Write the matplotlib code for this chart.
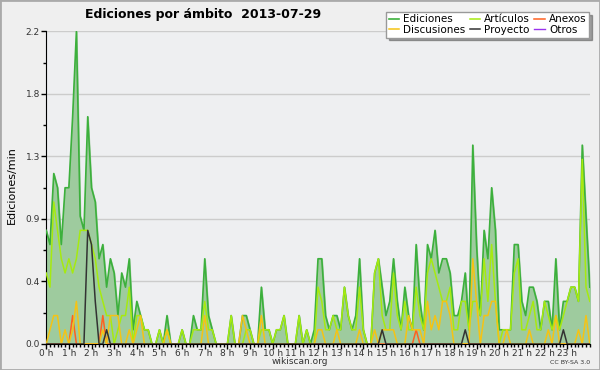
import numpy as np
import matplotlib
matplotlib.use("Agg")
import matplotlib.pyplot as plt
from matplotlib.patches import Rectangle

# Edits per minute, one value every 10 minutes (00:00 .. 24:00)
ediciones = [0.8, 0.7, 1.2, 1.1, 0.7, 1.1, 1.1, 1.6, 2.2, 0.9, 0.8, 1.6, 1.1, 1.0, 0.6, 0.7, 0.4, 0.6,
             0.5, 0.2, 0.5, 0.4, 0.6, 0.1, 0.3, 0.2, 0.1, 0.1, 0.0, 0.0, 0.1, 0.0, 0.2, 0.0, 0.0, 0.0,
             0.1, 0.0, 0.0, 0.2, 0.1, 0.1, 0.6, 0.2, 0.1, 0.0, 0.0, 0.0, 0.0, 0.2, 0.0, 0.0, 0.2, 0.2,
             0.1, 0.0, 0.0, 0.4, 0.1, 0.1, 0.0, 0.1, 0.1, 0.2, 0.0, 0.0, 0.0, 0.2, 0.0, 0.1, 0.0, 0.1,
             0.6, 0.6, 0.2, 0.1, 0.2, 0.2, 0.1, 0.4, 0.2, 0.1, 0.2, 0.6, 0.1, 0.0, 0.0, 0.5, 0.6, 0.4,
             0.2, 0.3, 0.6, 0.3, 0.1, 0.4, 0.2, 0.1, 0.7, 0.3, 0.1, 0.7, 0.6, 0.8, 0.5, 0.6, 0.6, 0.5,
             0.2, 0.2, 0.3, 0.5, 0.1, 1.4, 0.7, 0.2, 0.8, 0.6, 1.1, 0.8, 0.1, 0.1, 0.1, 0.1, 0.7, 0.7,
             0.3, 0.2, 0.4, 0.4, 0.3, 0.1, 0.3, 0.3, 0.1, 0.6, 0.1, 0.3, 0.3, 0.4, 0.4, 0.3, 1.4, 0.9,
             0.4]
articulos = [0.5, 0.4, 1.0, 0.8, 0.6, 0.5, 0.6, 0.5, 0.6, 0.8, 0.8, 0.8, 0.7, 0.6, 0.4, 0.3, 0.2, 0.2,
             0.0, 0.1, 0.2, 0.2, 0.4, 0.0, 0.2, 0.2, 0.1, 0.1, 0.0, 0.0, 0.1, 0.0, 0.1, 0.0, 0.0, 0.0,
             0.1, 0.0, 0.0, 0.1, 0.1, 0.1, 0.3, 0.1, 0.1, 0.0, 0.0, 0.0, 0.0, 0.2, 0.0, 0.0, 0.0, 0.1,
             0.1, 0.0, 0.0, 0.1, 0.1, 0.1, 0.0, 0.1, 0.1, 0.2, 0.0, 0.0, 0.0, 0.2, 0.0, 0.1, 0.0, 0.0,
             0.4, 0.3, 0.1, 0.1, 0.2, 0.1, 0.1, 0.4, 0.2, 0.1, 0.1, 0.4, 0.1, 0.0, 0.0, 0.5, 0.6, 0.2,
             0.1, 0.1, 0.5, 0.2, 0.1, 0.3, 0.1, 0.1, 0.4, 0.2, 0.1, 0.5, 0.6, 0.5, 0.4, 0.3, 0.3, 0.4,
             0.1, 0.1, 0.3, 0.3, 0.1, 0.3, 0.3, 0.2, 0.6, 0.3, 0.7, 0.3, 0.0, 0.1, 0.1, 0.1, 0.5, 0.6,
             0.1, 0.1, 0.2, 0.3, 0.1, 0.1, 0.3, 0.2, 0.1, 0.2, 0.1, 0.2, 0.3, 0.4, 0.4, 0.3, 1.3, 0.4,
             0.3]
discusiones = [0.0, 0.1, 0.2, 0.2, 0.0, 0.1, 0.0, 0.1, 0.3, 0.0, 0.0, 0.0, 0.0, 0.0, 0.0, 0.1, 0.0, 0.2,
               0.2, 0.2, 0.0, 0.0, 0.1, 0.0, 0.1, 0.2, 0.0, 0.0, 0.0, 0.0, 0.0, 0.0, 0.1, 0.0, 0.0, 0.0,
               0.0, 0.0, 0.0, 0.0, 0.0, 0.0, 0.2, 0.0, 0.0, 0.0, 0.0, 0.0, 0.0, 0.0, 0.0, 0.0, 0.2, 0.1,
               0.0, 0.0, 0.0, 0.2, 0.0, 0.0, 0.0, 0.0, 0.0, 0.0, 0.0, 0.0, 0.0, 0.0, 0.0, 0.0, 0.0, 0.0,
               0.1, 0.1, 0.0, 0.0, 0.0, 0.1, 0.0, 0.0, 0.0, 0.0, 0.0, 0.1, 0.0, 0.0, 0.0, 0.1, 0.0, 0.1,
               0.1, 0.1, 0.1, 0.0, 0.0, 0.0, 0.2, 0.1, 0.1, 0.1, 0.0, 0.3, 0.1, 0.2, 0.1, 0.3, 0.3, 0.2,
               0.0, 0.0, 0.0, 0.0, 0.0, 0.6, 0.3, 0.0, 0.2, 0.2, 0.3, 0.3, 0.0, 0.0, 0.1, 0.0, 0.0, 0.0,
               0.0, 0.0, 0.1, 0.0, 0.0, 0.0, 0.0, 0.1, 0.0, 0.2, 0.0, 0.0, 0.0, 0.0, 0.0, 0.1, 0.0, 0.2,
               0.0]
anexos = [0.0] * 145
anexos[7] = 0.2
anexos[15] = 0.2
anexos[98] = 0.1
proyecto = [0.0] * 145
proyecto[11] = 0.8
proyecto[12] = 0.7
proyecto[13] = 0.3
proyecto[16] = 0.1
proyecto[89] = 0.1
proyecto[111] = 0.1
proyecto[137] = 0.1
otros = [0.0] * 145

hours = np.arange(len(ediciones)) / 6.0
hour_labels = [f"{h} h" for h in range(24)]

fig = plt.figure(figsize=(6, 3.7), dpi=100, facecolor="#efefef")
ax = fig.add_axes([0.077, 0.0703, 0.906, 0.8446])
ax.set_facecolor("#eeeff1")

ax.plot(hours, otros, color="#9933ee", lw=1, zorder=1, label="Otros")
ax.fill_between(hours, ediciones, 0, color="#9ecb9e", zorder=2)
ax.plot(hours, ediciones, color="#3cb03c", lw=1.2, zorder=3, label="Ediciones")
ax.plot(hours, articulos, color="#a6ea10", lw=1.1, zorder=4, label="Artículos")
ax.plot(hours, anexos, color="#ff6020", lw=1.1, zorder=5, label="Anexos")
ax.plot(hours, discusiones, color="#f5c314", lw=1.1, zorder=6, label="Discusiones")
ax.plot(hours, proyecto, color="#333333", lw=1.1, zorder=7, label="Proyecto")

ax.set_xlim(0, 24)
ax.set_ylim(0, 2.2)
ax.set_xticks(np.arange(24))
ax.set_xticklabels(hour_labels)
ax.set_xticks(np.arange(0, 24.01, 1 / 6), minor=True)
yt = np.linspace(0, 2.2, 6)
ax.set_yticks(yt)
ax.set_yticklabels([f"{v:.1f}" for v in yt])
ax.set_yticks(yt[:-1] + 0.22, minor=True)
ax.grid(axis="y", color="#cccccc", lw=1)
ax.set_axisbelow(True)
for s in ["top", "right"]:
    ax.spines[s].set_visible(False)
ax.tick_params(axis="both", which="major", labelsize=6.5, colors="black", labelcolor="#333333",
               length=3.5, width=1)
ax.tick_params(axis="x", which="major", pad=0)
ax.tick_params(axis="y", which="major", pad=1)
ax.tick_params(axis="both", which="minor", length=2.5, width=1)

fig.text(0.142, 0.962, "Ediciones por ámbito  2013-07-29", fontsize=9, fontweight="bold",
         ha="left", va="center")
fig.text(0.02, 0.5, "Ediciones/min", rotation=90, fontsize=8, ha="center", va="center")
fig.text(0.5, 0.022, "wikiscan.org", fontsize=6.5, ha="center", va="center", color="#333333")
fig.text(0.983, 0.02, "CC BY-SA 3.0", fontsize=4.5, ha="right", va="center", color="#333333")

handles, labels = ax.get_legend_handles_labels()
order = ["Ediciones", "Discusiones", "Artículos", "Proyecto", "Anexos", "Otros"]
hmap = dict(zip(labels, handles))
leg = fig.legend([hmap[k] for k in order], order, loc="upper right", bbox_to_anchor=(0.982, 0.968),
                 ncol=3, fontsize=7.5, frameon=True, fancybox=False, shadow=True,
                 handlelength=1.0, handletextpad=0.4, columnspacing=0.4, labelspacing=0.05,
                 borderpad=0.25, borderaxespad=0)
leg.get_frame().set_edgecolor("#999999")
leg.get_frame().set_facecolor("white")
leg.get_frame().set_linewidth(1)

fig.patches.append(Rectangle((0, 0), 1, 1, transform=fig.transFigure, fill=False,
                             edgecolor="#aaaaaa", lw=2))

fig.savefig("out.png", dpi=100, facecolor=fig.get_facecolor())
